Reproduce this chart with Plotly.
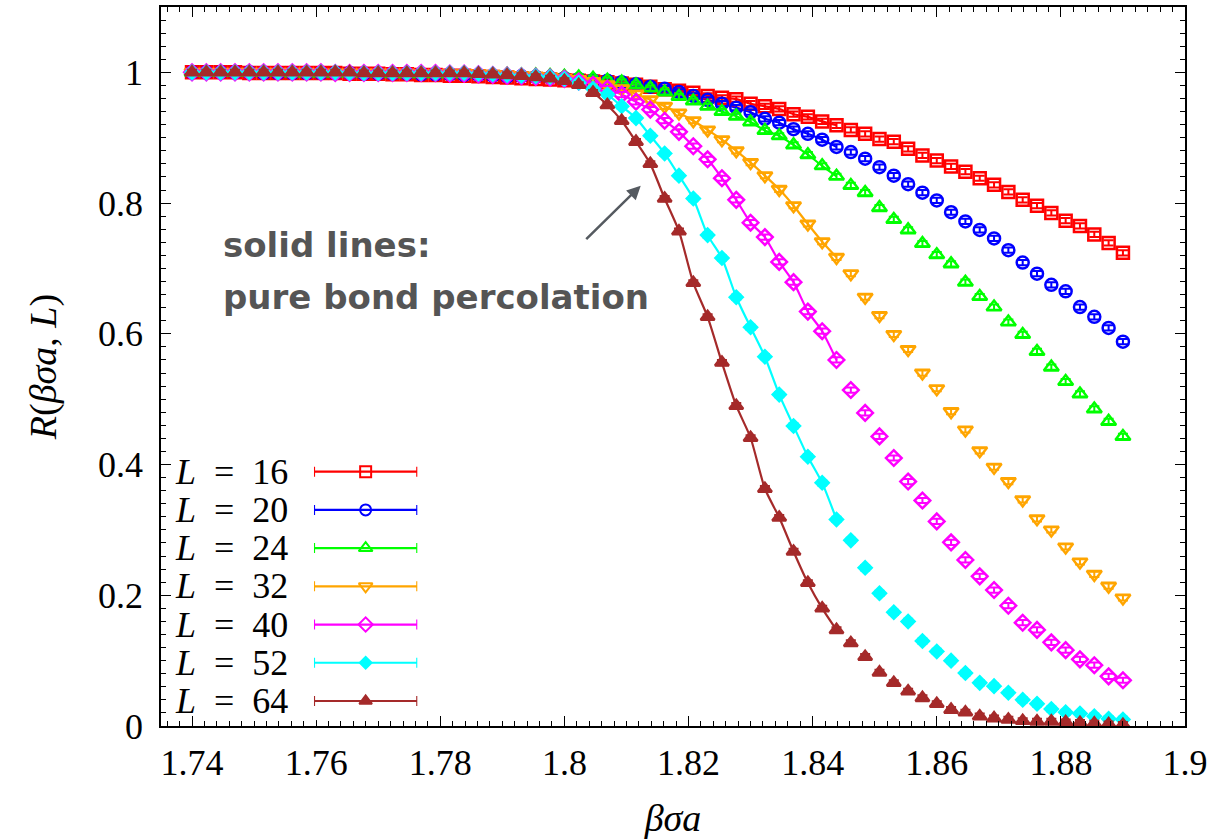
import numpy as np
import plotly.graph_objects as go

# ---------------- data ----------------
beta = np.round(np.linspace(1.74, 1.89, 66), 6)

sizes = ["16", "20", "24", "32", "40", "52", "64"]

R_L16 = [1.000, 1.000, 1.000, 1.000, 0.999, 0.999, 0.999, 0.999, 0.999, 0.999,
         0.999, 0.998, 0.998, 0.998, 0.997, 0.997, 0.996, 0.996, 0.995, 0.995,
         0.994, 0.993, 0.992, 0.991, 0.990, 0.989, 0.988, 0.987, 0.986, 0.985,
         0.983, 0.981, 0.978, 0.974, 0.972, 0.969, 0.964, 0.961, 0.959, 0.952,
         0.948, 0.944, 0.936, 0.932, 0.925, 0.919, 0.912, 0.906, 0.898, 0.894,
         0.883, 0.873, 0.865, 0.856, 0.848, 0.838, 0.828, 0.817, 0.805, 0.796,
         0.785, 0.773, 0.765, 0.752, 0.739, 0.724]
R_L20 = [1.000, 1.000, 1.000, 1.000, 1.000, 0.999, 0.999, 0.999, 0.999, 0.999,
         0.999, 0.999, 0.998, 0.998, 0.998, 0.998, 0.997, 0.997, 0.997, 0.996,
         0.996, 0.995, 0.994, 0.994, 0.993, 0.992, 0.991, 0.990, 0.988, 0.987,
         0.985, 0.982, 0.978, 0.975, 0.970, 0.964, 0.958, 0.952, 0.946, 0.939,
         0.929, 0.923, 0.913, 0.906, 0.897, 0.886, 0.878, 0.868, 0.855, 0.842,
         0.829, 0.816, 0.804, 0.786, 0.772, 0.759, 0.746, 0.728, 0.709, 0.692,
         0.675, 0.665, 0.641, 0.626, 0.609, 0.588]
R_L24 = [1.000, 1.000, 1.000, 1.000, 1.000, 1.000, 1.000, 0.999, 0.999, 0.999,
         0.999, 0.999, 0.999, 0.999, 0.998, 0.998, 0.998, 0.998, 0.998, 0.998,
         0.998, 0.997, 0.997, 0.996, 0.996, 0.995, 0.994, 0.993, 0.991, 0.988,
         0.985, 0.981, 0.976, 0.970, 0.963, 0.956, 0.948, 0.940, 0.933, 0.924,
         0.911, 0.903, 0.889, 0.874, 0.857, 0.841, 0.827, 0.816, 0.793, 0.775,
         0.759, 0.738, 0.721, 0.707, 0.679, 0.657, 0.641, 0.618, 0.599, 0.573,
         0.549, 0.527, 0.508, 0.485, 0.466, 0.443]
R_L32 = [1.000, 1.000, 1.000, 1.000, 1.000, 1.000, 1.000, 1.000, 1.000, 0.999,
         0.999, 0.999, 0.999, 0.999, 0.999, 0.999, 0.998, 0.998, 0.998, 0.998,
         0.998, 0.997, 0.996, 0.995, 0.994, 0.993, 0.991, 0.989, 0.986, 0.981,
         0.975, 0.967, 0.958, 0.948, 0.938, 0.926, 0.912, 0.897, 0.880, 0.862,
         0.842, 0.821, 0.796, 0.768, 0.741, 0.717, 0.692, 0.656, 0.628, 0.599,
         0.576, 0.540, 0.516, 0.481, 0.453, 0.421, 0.396, 0.374, 0.346, 0.317,
         0.300, 0.274, 0.251, 0.232, 0.214, 0.196]
R_L40 = [1.000, 1.000, 1.000, 1.000, 1.000, 1.000, 1.000, 1.000, 1.000, 1.000,
         0.999, 0.999, 0.999, 0.999, 0.999, 0.999, 0.999, 0.999, 0.998, 0.998,
         0.997, 0.996, 0.995, 0.994, 0.993, 0.992, 0.990, 0.986, 0.981, 0.975,
         0.966, 0.955, 0.943, 0.926, 0.909, 0.887, 0.867, 0.838, 0.805, 0.770,
         0.748, 0.710, 0.679, 0.634, 0.604, 0.560, 0.514, 0.479, 0.443, 0.410,
         0.374, 0.345, 0.313, 0.281, 0.254, 0.229, 0.208, 0.184, 0.158, 0.147,
         0.128, 0.116, 0.102, 0.093, 0.076, 0.070]
R_L52 = [1.000, 1.000, 1.000, 1.000, 1.000, 1.000, 1.000, 1.000, 1.000, 1.000,
         1.000, 0.999, 0.999, 0.999, 0.999, 0.999, 0.999, 0.999, 0.999, 0.999,
         0.998, 0.997, 0.996, 0.995, 0.994, 0.993, 0.990, 0.984, 0.975, 0.966,
         0.948, 0.930, 0.903, 0.876, 0.842, 0.807, 0.751, 0.716, 0.656, 0.610,
         0.565, 0.507, 0.459, 0.412, 0.372, 0.316, 0.284, 0.242, 0.203, 0.174,
         0.160, 0.130, 0.114, 0.100, 0.081, 0.066, 0.061, 0.051, 0.040, 0.034,
         0.026, 0.021, 0.019, 0.015, 0.011, 0.010]
R_L64 = [1.000, 1.000, 1.000, 1.000, 1.000, 1.000, 1.000, 1.000, 1.000, 1.000,
         1.000, 1.000, 0.999, 0.999, 0.999, 0.999, 0.999, 0.999, 0.999, 0.999,
         0.998, 0.997, 0.996, 0.995, 0.993, 0.991, 0.987, 0.981, 0.969, 0.950,
         0.926, 0.894, 0.860, 0.807, 0.757, 0.678, 0.626, 0.556, 0.490, 0.441,
         0.363, 0.319, 0.267, 0.219, 0.180, 0.147, 0.127, 0.106, 0.082, 0.066,
         0.053, 0.043, 0.034, 0.025, 0.021, 0.015, 0.012, 0.010, 0.008, 0.007,
         0.007, 0.006, 0.005, 0.004, 0.003, 0.002]

series = [R_L16, R_L20, R_L24, R_L32, R_L40, R_L52, R_L64]
err = 0.004  # statistical error (approx.)

# pure bond percolation curves span this beta window (index range of the grid)
line_start, line_end = 22, 46

# ---------------- styles ----------------
colors = ["#ff0000", "#0000ff", "#00ff00", "#ffa500", "#ff00ff", "#00ffff", "#a52a2a"]
symbols = ["square-open", "circle-open", "triangle-up-open", "triangle-down-open",
           "diamond-open", "diamond", "triangle-up"]
msizes = [12, 12, 13, 13, 12, 10, 12]

SERIF = "Liberation Serif, Times New Roman, serif"
fig = go.Figure()

for vals, c in zip(series, colors):
    fig.add_trace(go.Scatter(
        x=beta[line_start:line_end], y=vals[line_start:line_end], mode="lines",
        line=dict(color=c, width=2.2, shape="spline", smoothing=0.6),
        showlegend=False, hoverinfo="skip"))

for vals, c, s, ms in zip(series, colors, symbols, msizes):
    fig.add_trace(go.Scatter(
        x=beta, y=vals, mode="markers",
        marker=dict(symbol=s, size=ms, color=c, line=dict(color=c, width=2.5)),
        error_y=dict(type="constant", value=err, color=c, thickness=2, width=5),
        showlegend=False))

# ---------------- custom legend (text left, sample right) ----------------
for i, (c, s, ms) in enumerate(zip(colors, symbols, msizes)):
    fig.add_trace(go.Scatter(
        x=[0.5], y=[i], xaxis="x2", yaxis="y2", mode="markers",
        marker=dict(symbol=s, size=ms - 1, color=c, line=dict(color=c, width=2)),
        error_x=dict(type="constant", value=0.5, color=c, thickness=2.2, width=5),
        showlegend=False, hoverinfo="skip"))

annotations = []
for i, L in enumerate(sizes):
    annotations.append(dict(
        xref="paper", yref="y2", x=0.126, y=i, xanchor="right", yanchor="middle",
        text=f"<i>L</i>  =  {L}", showarrow=False,
        font=dict(family=SERIF, size=36, color="black")))

TXT = dict(family="DejaVu Sans", size=34, color="#555555")
annotations.append(dict(
    xref="paper", yref="paper", x=0.059, y=0.669, xanchor="left", yanchor="middle",
    text="<b>solid lines:</b>", showarrow=False, font=TXT))
annotations.append(dict(
    xref="paper", yref="paper", x=0.059, y=0.597, xanchor="left", yanchor="middle",
    text="<b>pure bond percolation</b>", showarrow=False, font=TXT))

annotations.append(dict(
    xref="x", yref="y", x=1.8123, y=0.8266, ax=-56, ay=55, axref="pixel", ayref="pixel",
    text="", showarrow=True, arrowhead=2, arrowsize=1.1, arrowwidth=2.5,
    arrowcolor="#555a60"))

axis_common = dict(
    showline=True, linecolor="black", linewidth=1.5, mirror="ticks",
    ticks="inside", ticklen=10, tickwidth=1, tickcolor="black",
    showgrid=False, zeroline=False,
    tickfont=dict(family=SERIF, size=36, color="black"),
)

fig.update_layout(
    width=1214, height=839,
    margin=dict(l=161, r=29, t=7, b=113, autoexpand=False),
    paper_bgcolor="white", plot_bgcolor="white",
    showlegend=False,
    xaxis=dict(**axis_common, range=[1.735, 1.9], tick0=1.74, dtick=0.02,
               minor=dict(ticks="inside", ticklen=5, dtick=0.002, tick0=1.74, tickcolor="black"),
               ticklabelstandoff=4,
               title=dict(text="<i>βσa</i>", font=dict(family=SERIF, size=38, color="black"),
                          standoff=30)),
    yaxis=dict(**axis_common, range=[0, 1.1], tick0=0, dtick=0.2,
               minor=dict(ticks="inside", ticklen=5, dtick=0.02, tick0=0, tickcolor="black"),
               ticklabelstandoff=9,
               title=dict(text="<i>R</i>(<i>βσa</i>, <i>L</i>)",
                          font=dict(family=SERIF, size=38, color="black"), standoff=30)),
    xaxis2=dict(domain=[0.1494, 0.2503], range=[0, 1], anchor="y2", visible=False,
                fixedrange=True),
    yaxis2=dict(domain=[0.0082, 0.3803], range=[6.5, -0.5], anchor="x2", visible=False,
                fixedrange=True),
    annotations=annotations,
)

fig.write_html("out.html")
